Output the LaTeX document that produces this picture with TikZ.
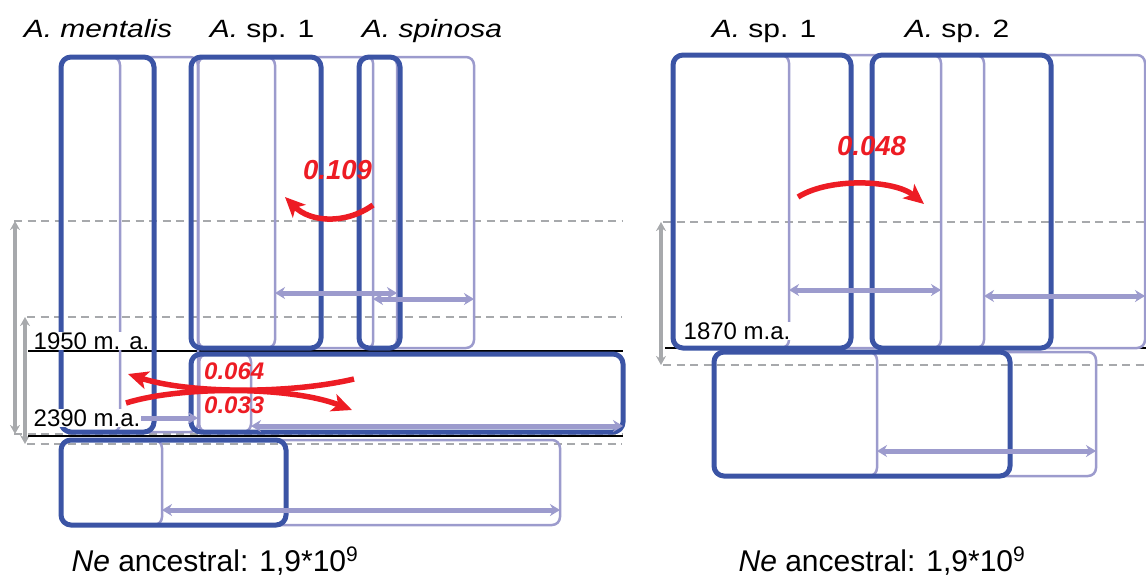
\documentclass[tikz,border=0pt]{standalone}
\usepackage{fontspec}
\setmainfont{Liberation Sans}
\newfontfamily\titlefont{Liberation Sans}[FakeStretch=1.2]
\usetikzlibrary{arrows.meta}
\definecolor{boxblue}{HTML}{3B54A5}
\definecolor{boxlight}{HTML}{9C9BCD}
\definecolor{migred}{HTML}{ED1C24}
\definecolor{guidegray}{HTML}{A7A9AC}
\begin{document}
\begin{tikzpicture}[x=1pt,y=-1pt,
  darkbox/.style={draw=boxblue,line width=5pt,rounded corners=10pt},
  lightbox/.style={draw=boxlight,line width=2.5pt,rounded corners=8pt},
  cirange/.style={draw=boxlight,line width=5pt,
    {Stealth[length=10pt,width=12pt]}-{Stealth[length=10pt,width=12pt]}},
  guideline/.style={draw=guidegray,line width=2.8pt,dash pattern=on 8pt off 5.5pt},
  timespan/.style={draw=guidegray,line width=4pt,
    {Stealth[length=9pt,width=10pt]}-{Stealth[length=9pt,width=10pt]}},
  splitline/.style={draw=black,line width=2.5pt},
  migarrow/.style={draw=migred,line width=5.5pt,-{Stealth[length=20pt,width=18pt,inset=5pt]}},
  poptitle/.style={anchor=base,inner sep=0pt,font=\titlefont\fontsize{25}{30}\selectfont},
  nelabel/.style={anchor=base,inner sep=0pt,font=\fontsize{30}{36}\selectfont},
  epochlabel/.style={anchor=base west,inner sep=0.5pt,fill=white,font=\fontsize{24}{29}\selectfont},
  miglabel/.style={anchor=base west,inner sep=0pt,text=migred,font=\bfseries\itshape\fontsize{27.5}{33}\selectfont},
  miglabelsmall/.style={miglabel,font=\bfseries\itshape\fontsize{24}{29}\selectfont}]
\useasboundingbox (0,0) rectangle (1146,576);

% ---------- time guides ----------
\draw[guideline] (14,221) -- (622,221);
\draw[guideline] (27,317) -- (622,317);
\draw[guideline] (14,434) -- (622,434);
\draw[guideline] (27,444) -- (622,444);
\draw[guideline] (663,222) -- (1146,222);
\draw[guideline] (663,365) -- (1146,365);
\draw[timespan] (15,221) -- (15,434);
\draw[timespan] (25,317) -- (25,444);
\draw[timespan] (661,222) -- (661,365);

% ---------- split times ----------
\draw[splitline] (28,351) -- (623,351);
\draw[splitline] (28,436) -- (623,436);
\draw[splitline] (665,348) -- (1146,348);

% ---------- left tree: interval boxes ----------
\draw[lightbox] (61,57) rectangle (120,432);
\draw[lightbox] (61,57) rectangle (198,432);
\draw[lightbox] (198,57) rectangle (275,348);
\draw[lightbox] (198,57) rectangle (397,348);
\draw[lightbox,rounded corners=6pt] (359,57) rectangle (373,348);
\draw[lightbox] (359,57) rectangle (474,348);
\draw[lightbox] (199,354) rectangle (251,432);
\draw[lightbox] (199,354) rectangle (623,432);
\draw[lightbox] (61,440) rectangle (162,525);
\draw[lightbox] (61,440) rectangle (560,525);

% ---------- left tree: estimates ----------
\draw[darkbox] (61,57) rectangle (154,432);
\draw[darkbox] (191,57) rectangle (321,348);
\draw[darkbox] (359,57) rectangle (400,348);
\draw[darkbox] (191,354) rectangle (623,432);
\draw[darkbox] (61,440) rectangle (286,525);

% ---------- right tree: interval boxes ----------
\draw[lightbox] (673,55) rectangle (789,348);
\draw[lightbox] (673,55) rectangle (941,348);
\draw[lightbox] (872,55) rectangle (984,348);
\draw[lightbox] (872,55) rectangle (1145,348);
\draw[lightbox] (714,352) rectangle (877,476);
\draw[lightbox] (714,352) rectangle (1096,476);

% ---------- right tree: estimates ----------
\draw[darkbox] (673,55) rectangle (851,348);
\draw[darkbox] (872,55) rectangle (1051,348);
\draw[darkbox] (714,352) rectangle (1010,476);

% ---------- interval ranges ----------
\draw[cirange] (120,418) -- (198,418);
\draw[cirange] (275,293) -- (397,293);
\draw[cirange] (373,299) -- (474,299);
\draw[cirange] (251,426) -- (623,426);
\draw[cirange] (162,510) -- (560,510);
\draw[cirange] (789,290) -- (941,290);
\draw[cirange] (984,296) -- (1145,296);
\draw[cirange] (877,451) -- (1096,451);

% ---------- migration ----------
\draw[migarrow] (373,205) .. controls (345,225) and (310,222) .. (285,197);
\draw[migarrow] (798,197) .. controls (830,177) and (895,180) .. (924,204);
\draw[migarrow] (354,379) .. controls (290,394) and (190,394) .. (128,374);
\draw[migarrow] (126,403) .. controls (180,386) and (290,386) .. (352,410);

% ---------- labels ----------
\node[poptitle] (tmen) at (98,37) {\textit{A. mentalis}};
\node[poptitle] (tspa) at (262,37) {\textit{A.} sp. 1};
\node[poptitle] (tspi) at (432,37) {\textit{A. spinosa}};
\node[poptitle] (tspb) at (764,37) {\textit{A.} sp. 1};
\node[poptitle] (tspc) at (957,37) {\textit{A.} sp. 2};

\node[epochlabel] (ea) at (33,349) {1950 m. a.};
\node[epochlabel] (eb) at (33,426) {2390 m.a.};
\node[epochlabel] (ec) at (683,339) {1870 m.a.};

\node[miglabel] (ma) at (303,179) {0.109};
\node[miglabelsmall] (mb) at (204,379) {0.064};
\node[miglabelsmall] (mc) at (204,413) {0.033};
\node[miglabel] (md) at (837,155) {0.048};

\node[nelabel] (nea) at (215,571) {\textit{Ne} ancestral: 1,9*10\textsuperscript{9}};
\node[nelabel] (neb) at (882,571) {\textit{Ne} ancestral: 1,9*10\textsuperscript{9}};
\end{tikzpicture}
\end{document}
